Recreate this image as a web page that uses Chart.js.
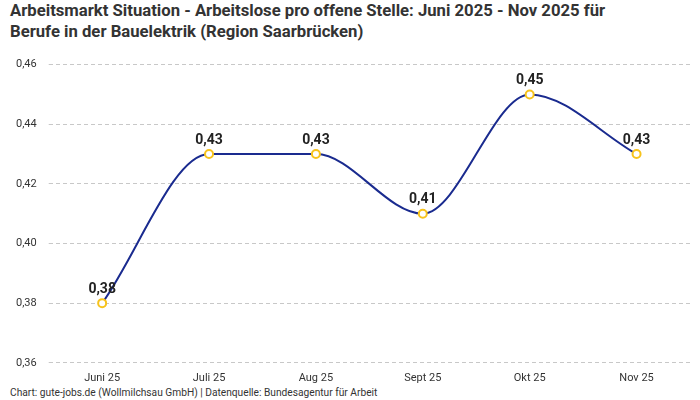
<!DOCTYPE html>
<html>
<head>
<meta charset="utf-8">
<script src="https://cdn.jsdelivr.net/npm/chart.js@4"></script>
<style>
  body { margin: 0; background: #fff; }
  #wrap { position: relative; width: 700px; height: 400px; }
  h1 { position: absolute; left: 10px; top: 0px; margin: 0; font: bold 16.7px "Roboto", sans-serif; line-height: 21px; color: #333; }
  #foot { position: absolute; left: 10px; top: 387px; font: 10.2px "Roboto", sans-serif; color: #333; }
  #box { position: absolute; left: 0; top: 46px; width: 700px; height: 340px; }
</style>
</head>
<body>
<div id="wrap">
  <h1>Arbeitsmarkt Situation - Arbeitslose pro offene Stelle: Juni 2025 - Nov 2025 für<br>Berufe in der Bauelektrik (Region Saarbrücken)</h1>
  <div id="box"><canvas id="chart"></canvas></div>
  <div id="foot">Chart: gute-jobs.de (Wollmilchsau GmbH) | Datenquelle: Bundesagentur für Arbeit</div>
</div>
<script>
const months = ["Juni 25", "Juli 25", "Aug 25", "Sept 25", "Okt 25", "Nov 25"];
const ratio = [0.38, 0.43, 0.43, 0.41, 0.45, 0.43];

function fmt(v) {
    return v.toFixed(2).replace('.', ',');
}

// Werte über die Punkte schreiben
const labelPlugin = {
    id: 'pointLabels',
    afterDatasetsDraw(chart) {
        const ctx = chart.ctx;
        const meta = chart.getDatasetMeta(0);
        ctx.save();
        ctx.font = 'bold 14px Roboto, sans-serif';
        ctx.fillStyle = '#222';
        ctx.textAlign = 'center';
        ctx.textBaseline = 'bottom';
        meta.data.forEach(function(pt, i) {
            ctx.fillText(fmt(ratio[i]), pt.x, pt.y - 7);
        });
        ctx.restore();
    }
};

new Chart(document.getElementById('chart'), {
    type: 'line',
    data: {
        labels: months,
        datasets: [{
            data: ratio,
            borderColor: '#1a2b8f',
            borderWidth: 2,
            cubicInterpolationMode: 'monotone',
            pointRadius: 4,
            pointBorderWidth: 2,
            pointBackgroundColor: '#fff',
            pointBorderColor: '#f7c31c'
        }]
    },
    options: {
        responsive: true,
        maintainAspectRatio: false,
        animation: false,
        layout: { padding: { left: 4, right: 10, top: 0, bottom: 0 } },
        plugins: {
            legend: { display: false },
            tooltip: { enabled: false }
        },
        scales: {
            x: {
                offset: true,
                grid: { display: false },
                border: { display: false },
                ticks: { color: '#333', font: { size: 11, family: 'Roboto' }, padding: 1 }
            },
            y: {
                min: 0.36,
                max: 0.46,
                grid: { color: '#c8c8c8', tickLength: 0 },
                border: { display: false, dash: [4, 3] },
                ticks: {
                    stepSize: 0.02,
                    padding: 12,
                    color: '#333',
                    font: { size: 11, family: 'Roboto' },
                    callback: function(v) { return fmt(v); }
                }
            }
        }
    },
    plugins: [labelPlugin]
});
</script>
</body>
</html>
